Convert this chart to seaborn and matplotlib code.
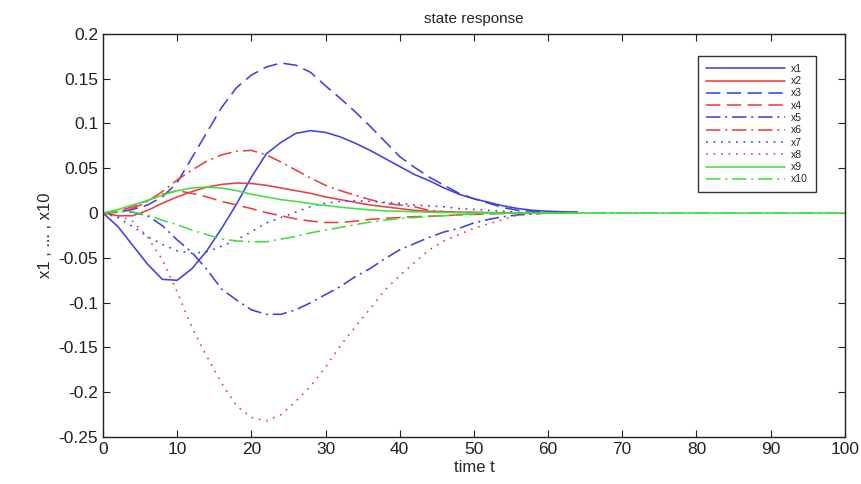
import numpy as np
import pandas as pd
import seaborn as sns
import matplotlib.pyplot as plt
from matplotlib.ticker import FuncFormatter

nan = np.nan

# time grid (s)
t = [0, 2, 4, 6, 8, 10, 12, 14, 16, 18, 20, 22, 24, 26, 28, 30, 32, 34, 36, 38,
     40, 42, 44, 46, 48, 50, 52, 54, 56, 58, 60, 62, 64, 68, 74, 100]

x1 = [0, -0.015, -0.036, -0.057, -0.074, -0.075, -0.062, -0.042, -0.017, 0.01, 0.04,
      0.066, 0.079, 0.089, 0.092, 0.09, 0.085, 0.078, 0.07, 0.061, 0.052, 0.043, 0.036,
      0.028, 0.021, 0.016, 0.012, 0.008, 0.005, 0.003, 0.002, 0.0015, 0.001, nan, nan, nan]
x2 = [0, -0.003, -0.003, 0.003, 0.011, 0.018, 0.024, 0.029, 0.032, 0.0335, 0.033,
      0.031, 0.028, 0.025, 0.022, 0.018, 0.015, 0.012, 0.009, 0.007, 0.005, 0.003, 0.002,
      0.0015, 0.001, 0.0008, 0.0005, 0.0003, 0, 0, 0, 0, 0, nan, nan, nan]
x3 = [0, 0.001, 0.004, 0.009, 0.018, 0.034, 0.062, 0.09, 0.118, 0.14, 0.154, 0.163,
      0.1675, 0.165, 0.157, 0.142, 0.128, 0.113, 0.097, 0.08, 0.063, 0.051, 0.04, 0.031,
      0.022, 0.016, 0.011, 0.006, 0.003, 0.002, 0.0015, 0.001, 0.001, nan, nan, nan]
x4 = [0, 0.002, 0.007, 0.014, 0.021, 0.025, 0.022, 0.018, 0.013, 0.009, 0.005, 0.0005,
      -0.003, -0.0065, -0.009, -0.0105, -0.0105, -0.009, -0.007, -0.006, -0.005, -0.004,
      -0.0035, -0.003, -0.002, -0.0015, -0.001, -0.0005, 0, 0, 0, 0, 0, nan, nan, nan]
x5 = [0, 0.002, 0.001, -0.003, -0.014, -0.03, -0.044, -0.063, -0.085, -0.097, -0.108,
      -0.113, -0.113, -0.108, -0.1, -0.091, -0.082, -0.071, -0.062, -0.051, -0.041, -0.034,
      -0.027, -0.021, -0.017, -0.011, -0.007, -0.004, -0.002, -0.001, 0, 0, 0, nan, nan, nan]
x6 = [0, 0.001, 0.005, 0.013, 0.024, 0.037, 0.048, 0.058, 0.065, 0.069, 0.07, 0.065,
      0.057, 0.048, 0.039, 0.031, 0.025, 0.02, 0.015, 0.011, 0.009, 0.007, 0.003, 0.0015,
      0.001, 0.0005, 0, 0, 0, 0, 0, 0, 0, nan, nan, nan]
x7 = [0, -0.005, -0.015, -0.026, -0.035, -0.042, -0.045, -0.043, -0.037, -0.03, -0.021,
      -0.011, -0.005, 0.001, 0.0074, 0.011, 0.013, 0.014, 0.013, 0.012, 0.011, 0.009,
      0.008, 0.007, 0.005, 0.004, 0.003, 0.002, 0.001, 0, 0, 0, 0, nan, nan, nan]
x8 = [0, -0.003, -0.009, -0.027, -0.052, -0.088, -0.128, -0.16, -0.19, -0.215, -0.228,
      -0.232, -0.225, -0.21, -0.193, -0.172, -0.148, -0.127, -0.107, -0.086, -0.07, -0.055,
      -0.041, -0.031, -0.024, -0.017, -0.012, -0.007, -0.002, -0.001, 0, 0, 0, 0, 0, nan]
x9 = [0, 0.004, 0.009, 0.014, 0.02, 0.025, 0.028, 0.029, 0.028, 0.025, 0.021, 0.018,
      0.015, 0.013, 0.0105, 0.0085, 0.0065, 0.005, 0.0035, 0.0025, 0.002, 0.0015, 0.001,
      0.0007, 0.0004, 0, 0, 0, 0, 0, 0, 0, 0, 0, 0, 0]
x10 = [0, 0.002, 0.001, -0.002, -0.008, -0.013, -0.019, -0.024, -0.029, -0.031, -0.032,
       -0.032, -0.029, -0.026, -0.022, -0.019, -0.016, -0.013, -0.01, -0.008, -0.006,
       -0.005, -0.004, -0.003, -0.002, -0.001, -0.0005, 0, 0, 0, 0, 0, 0, 0, 0, 0]

names = ['x1', 'x2', 'x3', 'x4', 'x5', 'x6', 'x7', 'x8', 'x9', 'x10']
series = [x1, x2, x3, x4, x5, x6, x7, x8, x9, x10]

blue, red, green = '#4040e0', '#e84040', '#40e040'
colors = [blue, red, blue, red, blue, red, blue, red, green, green]
solid, dash, dashdot, dot = '', (9, 4), (9, 3, 1.3, 3), (1.1, 3.6)
styles = [solid, solid, dash, dash, dashdot, dashdot, dot, dot, solid, dashdot]

df = pd.concat([pd.DataFrame({'t': t, 'v': s, 'state': n}) for n, s in zip(names, series)])
df = df.dropna()

sns.set_style('ticks')
plt.rcParams['font.family'] = ['Liberation Sans', 'DejaVu Sans']
plt.rcParams['axes.unicode_minus'] = False

fig = plt.figure(figsize=(8.62, 4.84), dpi=100)
ax = fig.add_axes([0.1195, 0.097, 0.8605, 0.833])

sns.lineplot(data=df, x='t', y='v', hue='state', style='state', hue_order=names,
             style_order=names, palette=dict(zip(names, colors)),
             dashes=dict(zip(names, styles)), linewidth=1.15, estimator=None,
             sort=False, ax=ax)

old = ax.get_legend()
handles = old.legend_handles
labels = [tx.get_text() for tx in old.get_texts()]
old.remove()
leg = ax.legend(handles, labels, loc='upper right', bbox_to_anchor=(0.961, 0.945),
                borderaxespad=0, fontsize=7.5, handlelength=7.6, handletextpad=0.6,
                labelspacing=0.22, fancybox=False, frameon=True, edgecolor='black',
                borderpad=0.75)
leg.get_frame().set_linewidth(1.0)

ax.set_xlim(0, 100)
ax.set_ylim(-0.25, 0.2)
ax.set_xticks(range(0, 101, 10))
ax.set_yticks([-0.25, -0.2, -0.15, -0.1, -0.05, 0, 0.05, 0.1, 0.15, 0.2])
ax.yaxis.set_major_formatter(FuncFormatter(lambda v, p: '%g' % round(v, 2)))
ax.tick_params(direction='in', top=True, right=True, length=5, labelsize=12.5,
               colors='#222222')
for sp in ax.spines.values():
    sp.set_visible(True)
    sp.set_linewidth(1.0)
    sp.set_color('#222222')

ax.set_title('state response', fontsize=11, pad=8)
ax.set_xlabel('time t', fontsize=12, labelpad=2)
ax.set_ylabel('x1 , ... , x10', fontsize=12, labelpad=4)

fig.savefig('out.png', dpi=100)
